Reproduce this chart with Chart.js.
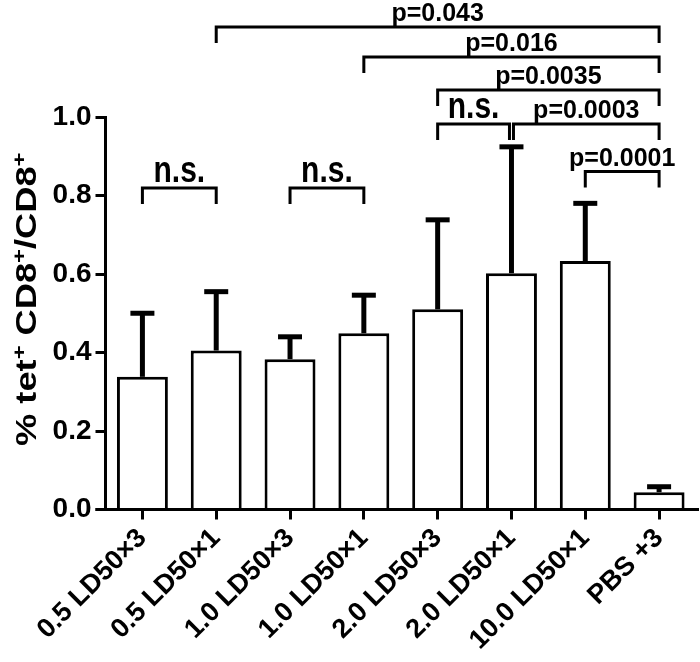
<!DOCTYPE html>
<html><head><meta charset="utf-8">
<script src="https://cdn.jsdelivr.net/npm/chart.js@4.4.0/dist/chart.umd.min.js"></script>
<style>html,body{margin:0;padding:0;background:#fff}#wrap{width:700px;height:662px}</style>
</head><body><div id="wrap"><canvas id="c" width="700" height="662"></canvas></div>
<script>
// ---- data ----
const categories = ["0.5 LD50×3","0.5 LD50×1","1.0 LD50×3","1.0 LD50×1","2.0 LD50×3","2.0 LD50×1","10.0 LD50×1","PBS +3"];
const means      = [0.338, 0.405, 0.383, 0.449, 0.510, 0.602, 0.633, 0.044];
const errUpper   = [0.162, 0.150, 0.057, 0.097, 0.228, 0.322, 0.147, 0.014];
const yTicks     = [0.0, 0.2, 0.4, 0.6, 0.8, 1.0];
const bracketFrom  = [0, 2, 6, 4, 5, 4, 3, 1];
const bracketTo    = [1, 3, 7, 5, 7, 7, 7, 7];
const bracketLevel = [0.819, 0.819, 0.861, 0.982, 0.982, 1.069, 1.153, 1.229];
const bracketLabel = ["n.s.", "n.s.", "p=0.0001", "n.s.", "p=0.0003", "p=0.0035", "p=0.016", "p=0.043"];

const FONT = "'Liberation Sans', Arial, sans-serif";

const extras = {
  id: 'extras',
  afterDatasetsDraw(chart) {
    const ctx = chart.ctx, x = chart.scales.x, y = chart.scales.y;
    ctx.save();
    ctx.strokeStyle = '#000'; ctx.fillStyle = '#000';
    // axis extensions (axes meet / overrun like the original)
    ctx.lineWidth = 3;
    ctx.beginPath(); ctx.moveTo(x.left - 10, y.bottom); ctx.lineTo(x.right + 3, y.bottom); ctx.stroke();
    // error bars
    means.forEach((m, i) => {
      const px = x.getPixelForValue(i);
      const y0 = y.getPixelForValue(m);
      const y1 = y.getPixelForValue(m + errUpper[i]);
      ctx.lineWidth = 5;
      ctx.beginPath(); ctx.moveTo(px, y0); ctx.lineTo(px, y1); ctx.stroke();
      ctx.beginPath(); ctx.moveTo(px - 12, y1); ctx.lineTo(px + 12, y1); ctx.stroke();
    });
    // brackets
    ctx.lineWidth = 3; ctx.lineCap = 'butt'; ctx.lineJoin = 'miter';
    bracketFrom.forEach((f, k) => {
      const t = bracketTo[k];
      let xa = x.getPixelForValue(f), xb = x.getPixelForValue(t);
      bracketFrom.forEach((f2, j) => {
        if (j === k || bracketLevel[j] !== bracketLevel[k]) return;
        if (bracketTo[j] === f) xa += 2;
        if (f2 === t) xb -= 2;
      });
      const yl = y.getPixelForValue(bracketLevel[k]);
      ctx.beginPath();
      ctx.moveTo(xa, yl + 16); ctx.lineTo(xa, yl); ctx.lineTo(xb, yl); ctx.lineTo(xb, yl + 16);
      ctx.stroke();
      const ns = bracketLabel[k] === 'n.s.';
      ctx.save();
      ctx.translate((xa + xb) / 2, yl - 6);
      if (ns) ctx.scale(1, 1.2);
      ctx.font = 'bold ' + (ns ? 30 : 25) + 'px ' + FONT;
      ctx.textAlign = 'center'; ctx.textBaseline = 'alphabetic';
      ctx.fillText(bracketLabel[k], 0, 0);
      ctx.restore();
    });
    // y title with superscripts
    const segs = [["% tet", 0], ["+", 1], [" CD8", 0], ["+", 1], ["/CD8", 0], ["+", 1]];
    const fMain = 'bold 29px ' + FONT, fSup = 'bold 19px ' + FONT;
    let total = 0;
    segs.forEach(s => { ctx.font = s[1] ? fSup : fMain; total += ctx.measureText(s[0]).width; });
    const cy = (y.top + y.bottom) / 2 - 14;
    ctx.translate(36, cy);
    ctx.rotate(-Math.PI / 2);
    ctx.scale(1.25, 1);
    let cx = -total / 2;
    ctx.textAlign = 'left';
    segs.forEach(s => {
      ctx.font = s[1] ? fSup : fMain;
      ctx.fillText(s[0], cx, s[1] ? -11 : 0);
      cx += ctx.measureText(s[0]).width;
    });
    ctx.restore();
  }
};

new Chart(document.getElementById('c'), {
  type: 'bar',
  data: {
    labels: categories,
    datasets: [{
      data: means,
      backgroundColor: '#fff',
      borderColor: '#000',
      borderWidth: 3,
      barPercentage: 0.69,
      categoryPercentage: 1.0
    }]
  },
  options: {
    responsive: false,
    animation: false,
    layout: { padding: { top: 117, right: 4, left: 0, bottom: 0 } },
    plugins: { legend: { display: false }, tooltip: { enabled: false } },
    scales: {
      x: {
        grid: { display: true, drawOnChartArea: false, offset: false, tickLength: 10, tickWidth: 3, tickColor: '#000' },
        border: { display: true, width: 3, color: '#000' },
        ticks: { color: '#000', font: { family: FONT, weight: 'bold', size: 27 }, minRotation: 45, maxRotation: 45, padding: 3, autoSkip: false },
        afterFit(s) { s.height = 152.5; }
      },
      y: {
        min: 0, max: 1,
        afterBuildTicks(s) { s.ticks = yTicks.map(v => ({ value: v })); },
        grid: { drawOnChartArea: false, tickLength: 10, tickWidth: 3, tickColor: '#000' },
        border: { display: true, width: 3, color: '#000' },
        ticks: { color: '#000', font: { family: FONT, weight: 'bold', size: 28 }, padding: 4, callback: v => Number(v).toFixed(1) },
        afterFit(s) { s.width = 105.5; }
      }
    }
  },
  plugins: [extras]
});
</script></body></html>
